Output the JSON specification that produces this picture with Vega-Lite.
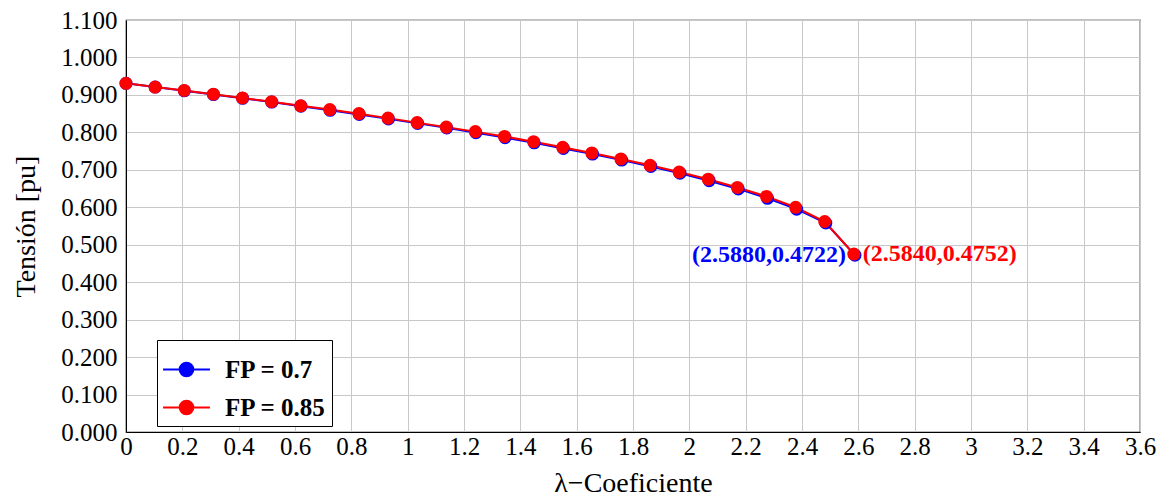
{
  "$schema": "https://vega.github.io/schema/vega-lite/v6.json",
  "width": 1014,
  "height": 412,
  "autosize": {"type": "none"},
  "padding": {"left": 126, "top": 20, "right": 29, "bottom": 66},
  "background": "white",
  "config": {
    "font": "Liberation Serif",
    "view": {"stroke": "black", "strokeWidth": 1.2},
    "axis": {
      "labelFont": "Liberation Serif",
      "titleFont": "Liberation Serif",
      "labelFontSize": 25,
      "titleFontSize": 28,
      "titleFontWeight": "normal",
      "labelColor": "black",
      "titleColor": "black",
      "gridColor": "#c8c8c8",
      "gridWidth": 1,
      "domainColor": "black",
      "ticks": false,
      "labelOverlap": false
    }
  },
  "datasets": {
    "series": [
      {"lambda": 0.0000, "v": 0.931, "serie": "FP = 0.7"},
      {"lambda": 0.1035, "v": 0.921, "serie": "FP = 0.7"},
      {"lambda": 0.2070, "v": 0.911, "serie": "FP = 0.7"},
      {"lambda": 0.3106, "v": 0.901, "serie": "FP = 0.7"},
      {"lambda": 0.4141, "v": 0.891, "serie": "FP = 0.7"},
      {"lambda": 0.5176, "v": 0.881, "serie": "FP = 0.7"},
      {"lambda": 0.6211, "v": 0.870, "serie": "FP = 0.7"},
      {"lambda": 0.7246, "v": 0.859, "serie": "FP = 0.7"},
      {"lambda": 0.8282, "v": 0.848, "serie": "FP = 0.7"},
      {"lambda": 0.9317, "v": 0.836, "serie": "FP = 0.7"},
      {"lambda": 1.0352, "v": 0.824, "serie": "FP = 0.7"},
      {"lambda": 1.1387, "v": 0.812, "serie": "FP = 0.7"},
      {"lambda": 1.2422, "v": 0.799, "serie": "FP = 0.7"},
      {"lambda": 1.3458, "v": 0.786, "serie": "FP = 0.7"},
      {"lambda": 1.4493, "v": 0.772, "serie": "FP = 0.7"},
      {"lambda": 1.5528, "v": 0.757, "serie": "FP = 0.7"},
      {"lambda": 1.6563, "v": 0.742, "serie": "FP = 0.7"},
      {"lambda": 1.7598, "v": 0.726, "serie": "FP = 0.7"},
      {"lambda": 1.8634, "v": 0.709, "serie": "FP = 0.7"},
      {"lambda": 1.9669, "v": 0.691, "serie": "FP = 0.7"},
      {"lambda": 2.0704, "v": 0.671, "serie": "FP = 0.7"},
      {"lambda": 2.1739, "v": 0.649, "serie": "FP = 0.7"},
      {"lambda": 2.2774, "v": 0.624, "serie": "FP = 0.7"},
      {"lambda": 2.3810, "v": 0.595, "serie": "FP = 0.7"},
      {"lambda": 2.4845, "v": 0.558, "serie": "FP = 0.7"},
      {"lambda": 2.5880, "v": 0.4722, "serie": "FP = 0.7"},
      {"lambda": 0.0000, "v": 0.931, "serie": "FP = 0.85"},
      {"lambda": 0.1034, "v": 0.921, "serie": "FP = 0.85"},
      {"lambda": 0.2067, "v": 0.912, "serie": "FP = 0.85"},
      {"lambda": 0.3101, "v": 0.902, "serie": "FP = 0.85"},
      {"lambda": 0.4134, "v": 0.892, "serie": "FP = 0.85"},
      {"lambda": 0.5168, "v": 0.882, "serie": "FP = 0.85"},
      {"lambda": 0.6202, "v": 0.871, "serie": "FP = 0.85"},
      {"lambda": 0.7235, "v": 0.861, "serie": "FP = 0.85"},
      {"lambda": 0.8269, "v": 0.850, "serie": "FP = 0.85"},
      {"lambda": 0.9302, "v": 0.838, "serie": "FP = 0.85"},
      {"lambda": 1.0336, "v": 0.826, "serie": "FP = 0.85"},
      {"lambda": 1.1370, "v": 0.814, "serie": "FP = 0.85"},
      {"lambda": 1.2403, "v": 0.802, "serie": "FP = 0.85"},
      {"lambda": 1.3437, "v": 0.789, "serie": "FP = 0.85"},
      {"lambda": 1.4470, "v": 0.775, "serie": "FP = 0.85"},
      {"lambda": 1.5504, "v": 0.760, "serie": "FP = 0.85"},
      {"lambda": 1.6538, "v": 0.745, "serie": "FP = 0.85"},
      {"lambda": 1.7571, "v": 0.729, "serie": "FP = 0.85"},
      {"lambda": 1.8605, "v": 0.712, "serie": "FP = 0.85"},
      {"lambda": 1.9638, "v": 0.694, "serie": "FP = 0.85"},
      {"lambda": 2.0672, "v": 0.675, "serie": "FP = 0.85"},
      {"lambda": 2.1706, "v": 0.653, "serie": "FP = 0.85"},
      {"lambda": 2.2739, "v": 0.629, "serie": "FP = 0.85"},
      {"lambda": 2.3773, "v": 0.600, "serie": "FP = 0.85"},
      {"lambda": 2.4806, "v": 0.562, "serie": "FP = 0.85"},
      {"lambda": 2.5840, "v": 0.4752, "serie": "FP = 0.85"}
    ],
    "labels": [
      {"lambda": 2.5880, "v": 0.4722, "serie": "FP = 0.7", "txt": "(2.5880,0.4722)"},
      {"lambda": 2.5840, "v": 0.4752, "serie": "FP = 0.85", "txt": "(2.5840,0.4752)"}
    ]
  },
  "encoding": {
    "x": {
      "field": "lambda", "type": "quantitative",
      "scale": {"domain": [0, 3.6], "nice": false, "zero": false},
      "axis": {
        "title": "λ−Coeficiente",
        "values": [0, 0.2, 0.4, 0.6, 0.8, 1, 1.2, 1.4, 1.6, 1.8, 2, 2.2, 2.4, 2.6, 2.8, 3, 3.2, 3.4, 3.6],
        "format": "~f",
        "labelPadding": 2,
        "titlePadding": 10,
        "labelFlush": false
      }
    },
    "y": {
      "field": "v", "type": "quantitative",
      "scale": {"domain": [0, 1.1], "nice": false},
      "axis": {
        "title": "Tensión [pu]",
        "values": [0, 0.1, 0.2, 0.3, 0.4, 0.5, 0.6, 0.7, 0.8, 0.9, 1.0, 1.1],
        "format": ".3f",
        "labelPadding": 9,
        "titlePadding": 20,
        "labelFlush": false
      }
    },
    "color": {
      "field": "serie", "type": "nominal",
      "scale": {"domain": ["FP = 0.7", "FP = 0.85"], "range": ["#0000ff", "#ff0000"]},
      "legend": {
        "title": null,
        "orient": "none",
        "legendX": 31,
        "legendY": 320,
        "direction": "vertical",
        "fillColor": "white",
        "strokeColor": "black",
        "padding": 5,
        "rowPadding": 0,
        "labelFont": "Liberation Serif",
        "labelFontSize": 25,
        "labelFontWeight": "bold",
        "labelColor": "black",
        "symbolType": "M-1,0H1M-0.29,0a0.29,0.29 0 1,0 0.58,0a0.29,0.29 0 1,0 -0.58,0Z",
        "symbolSize": 2200,
        "symbolStrokeWidth": 2,
        "symbolOpacity": 1,
        "labelOffset": 14
      }
    }
  },
  "layer": [
    {
      "data": {"name": "series"},
      "mark": {"type": "line", "strokeWidth": 2},
      "encoding": {
        "order": {"field": "lambda", "type": "quantitative"}
      }
    },
    {
      "data": {"name": "series"},
      "mark": {"type": "point", "filled": true, "size": 170, "opacity": 1},
      "encoding": {}
    },
    {
      "data": {"name": "labels"},
      "transform": [{"filter": "datum.serie === 'FP = 0.7'"}],
      "mark": {"type": "text", "fontWeight": "bold", "fontSize": 24, "font": "Liberation Serif", "baseline": "middle", "align": "right", "dx": -9},
      "encoding": {
        "text": {"field": "txt"}
      }
    },
    {
      "data": {"name": "labels"},
      "transform": [{"filter": "datum.serie === 'FP = 0.85'"}],
      "mark": {"type": "text", "fontWeight": "bold", "fontSize": 24, "font": "Liberation Serif", "baseline": "middle", "align": "left", "dx": 9},
      "encoding": {
        "text": {"field": "txt"}
      }
    }
  ]
}
